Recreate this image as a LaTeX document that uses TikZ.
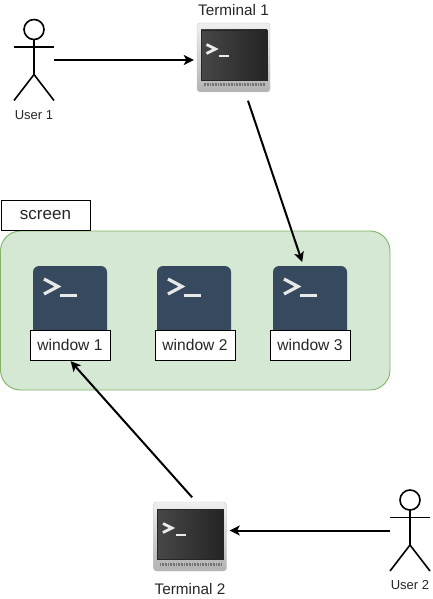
\documentclass[tikz,border=0pt]{standalone}
\usepackage{fontspec}
\setmainfont{Liberation Sans}
\usetikzlibrary{arrows.meta}
\usetikzlibrary{positioning}
\definecolor{mfill}{HTML}{D5E8D4}
\definecolor{mline}{HTML}{82B366}
\definecolor{mslate}{HTML}{36495E}
\definecolor{mprompt}{HTML}{E8E8E8}
\tikzset{flow/.style = {-{Stealth[length = 10pt, width = 10pt, inset = 2.5pt]}, line width = 2pt},
         stick/.style = {line width = 1.6pt},
         actor/.style = {minimum width = 40pt, minimum height = 81pt, inner sep = 0pt},
         console/.style = {minimum width = 73pt, minimum height = 69pt, inner sep = 0pt, rounded corners = 3pt,
                           top color = black!6, bottom color = black!30, draw = black!22},
         slate/.style = {minimum width = 74pt, minimum height = 74pt, inner sep = 0pt, rounded corners = 6pt, fill = mslate},
         tag/.style = {draw, line width = 0.9pt, fill = white, minimum width = 80pt, minimum height = 30pt, inner sep = 0pt, font = \fontsize{15.6}{18}\selectfont, text = black!85},
         caption/.style = {font = \fontsize{15.3}{18}\selectfont, text = black!85},
         small/.style = {font = \fontsize{13}{15}\selectfont, text = black!85}}
\begin{document}
\begin{tikzpicture}[x = 1pt, y = -1pt]
      \useasboundingbox (0, 0) rectangle (432, 599);
      \draw [fill = mfill, draw = mline, line width = 0.9pt, rounded corners = 20pt] (0.5, 231) rectangle (390, 390);
      \node [tag, minimum width = 89pt, font = \fontsize{17}{19}\selectfont] (screen) at (45.5, 215) {screen};

      % windows
      \node [slate] (win1) at (70, 303) {};
      \node [slate] (win2) at (194, 303) {};
      \node [slate] (win3) at (310, 303) {};
      \foreach \w in {win1, win2, win3} {
        \begin{scope}[shift = {(\w)}]
          \draw [mprompt, line width = 3.2pt] (-26, -24) -- (-12, -16.5) -- (-26, -9);
          \draw [mprompt, line width = 3.2pt] (-10, -7.5) -- (7, -7.5);
        \end{scope}
      }
      \node [tag] (lab1) at (70, 345) {window 1};
      \node [tag] (lab2) at (195, 345) {window 2};
      \node [tag] (lab3) at (310, 345) {window 3};

      % terminals
      \node [console] (term1) at (233.5, 57.5) {};
      \node [console] (term2) at (190, 536.5) {};
      \foreach \t in {term1, term2} {
        \begin{scope}[shift = {(\t)}]
          \shade [left color = black!72, right color = black!86, draw = black!85] (-32.5, -27.5) rectangle (33.5, 22.5);
          \draw [white!92!black, line width = 2.8pt] (-27, -13) -- (-18, -8.5) -- (-27, -4);
          \draw [white!92!black, line width = 2.8pt] (-14.5, -1.5) -- (-4.5, -1.5);
          \draw [black!55, line width = 3pt, dash pattern = on 0.8pt off 0.8pt] (-30, 27.5) -- (31, 27.5);
        \end{scope}
      }
      \node [caption] (cap1) [above = 4pt of term1] {Terminal 1};
      \node [caption] (cap2) [below = 9pt of term2] {Terminal 2};

      % users
      \node [actor] (user1) at (34, 60) {};
      \node [actor] (user2) at (410, 530.5) {};
      \foreach \u in {user1, user2} {
        \begin{scope}[shift = {(\u)}]
          \draw [stick] (0, -30.5) circle (10pt);
          \draw [stick] (0, -20.5) -- (0, 14.5);
          \draw [stick] (-20, -13) -- (20, -13);
          \draw [stick] (-20, 40.5) -- (0, 14.5) -- (20, 40.5);
        \end{scope}
      }
      \node [small] (cap3) [below = 6pt of user1] {User 1};
      \node [small] (cap4) [below = 6pt of user2] {User 2};

      \draw [flow, shorten > = 3pt] (user1.east) -- (term1.west |- user1.east);
      \draw [flow, shorten < = 9pt, shorten > = 4pt] (term1) -- (win3.100);
      \draw [flow, shorten < = 6pt, shorten > = 1pt] (term2.80) -- (lab1.south);
      \draw [flow, shorten > = 3pt] (user2.west) -- (term2.east |- user2.west);
    \end{tikzpicture}
\end{document}
